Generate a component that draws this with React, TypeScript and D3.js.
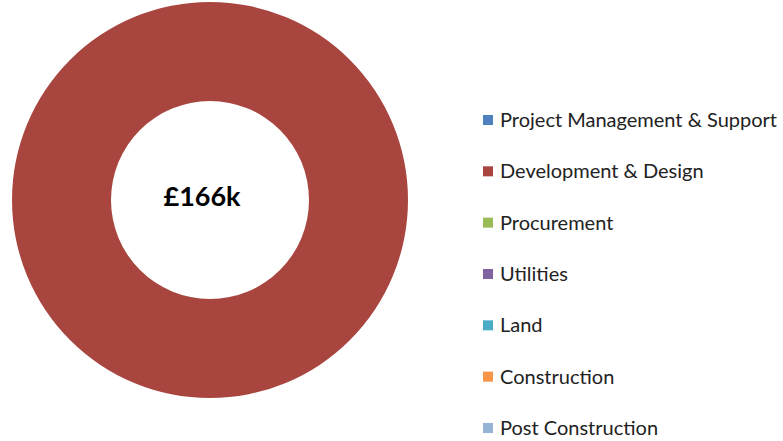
import React from "react";
import * as d3 from "d3";

const categories = [
  "Project Management & Support",
  "Development & Design",
  "Procurement",
  "Utilities",
  "Land",
  "Construction",
  "Post Construction",
];
const values = [0, 166, 0, 0, 0, 0, 0];
const colors = ["#4F81BD", "#A8453F", "#9BBB59", "#8064A2", "#4BACC6", "#F79646", "#95B3D7"];
const totalLabel = "£166k";

export default function App() {
  const width = 783;
  const height = 441;
  const cx = 210;
  const cy = 200;
  const outer = 198;
  const inner = 99;

  const pie = d3.pie<number>().sort(null).value((d) => d);
  const arcs = pie(values);
  const arc = d3.arc<d3.PieArcDatum<number>>().innerRadius(inner).outerRadius(outer);

  const legendY = d3.scalePoint<string>().domain(categories).range([120, 428]);

  return (
    <svg width={width} height={height} style={{ position: "absolute", left: 0, top: 0 }}>
      <g transform={`translate(${cx},${cy})`}>
        {arcs.map((a, i) =>
          a.value > 0 ? <path key={categories[i]} d={arc(a) || ""} fill={colors[i]} /> : null
        )}
        <text
          x={-8}
          y={-3}
          textAnchor="middle"
          dy="0.35em"
          fontFamily="Lato, sans-serif"
          fontWeight="bold"
          fontSize={27}
          fill="#000"
        >
          {totalLabel}
        </text>
      </g>
      <g fontFamily="Lato, sans-serif" fontSize={20} fill="#222">
        {categories.map((c, i) => (
          <g key={c} transform={`translate(483,${legendY(c)})`}>
            <rect x={0} y={-5} width={10} height={10} fill={colors[i]} />
            <text x={17} dy="0.35em">{c}</text>
          </g>
        ))}
      </g>
    </svg>
  );
}
